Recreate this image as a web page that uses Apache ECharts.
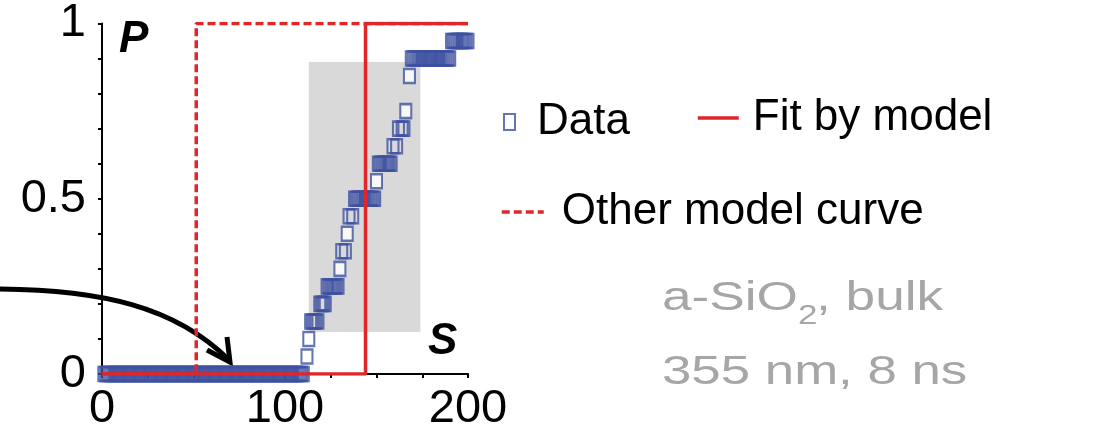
<!DOCTYPE html>
<html>
<head>
<meta charset="utf-8">
<script src="https://cdn.jsdelivr.net/npm/echarts@6/dist/echarts.min.js"></script>
<style>
  html, body { margin: 0; padding: 0; background: #fff; }
  #chart { width: 1118px; height: 433px; }
</style>
</head>
<body>
<div id="chart"></div>
<script>
// P levels of the data squares and the S values read at each level
var pLevels = [0, 0.05, 0.10, 0.15, 0.20, 0.25, 0.30, 0.35, 0.40, 0.45, 0.50, 0.55, 0.60, 0.65, 0.70, 0.75, 0.85, 0.90, 0.95];
var sAtLevel = [
  [1, 2, 3, 4, 5, 6, 7, 8, 9, 10, 11, 12, 13, 14, 15, 16, 17, 18, 19, 20, 21, 22, 23, 24, 25, 26, 27, 28, 29, 30,
   31, 32, 33, 34, 35, 36, 37, 38, 39, 40, 41, 42, 43, 44, 45, 46, 47, 48, 49, 50, 51, 52, 53, 54, 55, 56, 57, 58, 59, 60,
   61, 62, 63, 64, 65, 66, 67, 68, 69, 70, 71, 72, 73, 74, 75, 76, 77, 78, 79, 80, 81, 82, 83, 84, 85, 86, 87, 88, 89, 90,
   91, 92, 93, 94, 95, 96, 97, 98, 99, 100, 101, 102, 103, 104, 105, 106, 107, 108, 109, 110],
  [112],
  [113],
  [114, 115, 116, 117, 118],
  [119, 120, 121, 122],
  [123, 124, 125, 126, 127, 128, 129],
  [130],
  [131, 133],
  [134],
  [135, 137],
  [138, 139, 140, 141, 142, 143, 144, 145, 146, 147, 148, 149],
  [150],
  [151, 152, 153, 154, 155, 156, 157, 158],
  [159, 161],
  [162, 164, 165],
  [166],
  [168],
  [169, 170, 171, 172, 173, 174, 175, 176, 177, 178, 179, 180, 181, 182, 183, 184, 185, 186, 187, 188, 189, 190],
  [191, 192, 193, 194, 195, 196, 197, 198, 199, 200]
];

// step curves
var fitS = [0, 144, 144, 200];
var fitP = [0, 0, 1, 1];
var otherS = [0, 51.5, 51.5, 200];
var otherP = [0, 0, 1, 1];

// shaded band
var bandS = [113, 174];
var bandP = [0.12, 0.89];

var xTickLabels = [0, 100, 200];
var yTickLabels = [0, 0.5, 1];

var blue = '#3f51a0';
var red = '#e1262a';

// lone squares are hollow (white inside), stacked ones let their edges show through
var dataPts = [];
pLevels.forEach(function (p, i) {
  var lone = sAtLevel[i].length === 1;
  sAtLevel[i].forEach(function (s) {
    dataPts.push({ value: [s, p], itemStyle: { color: lone ? '#fff' : 'rgba(255,255,255,0)' } });
  });
});
function pairs(xs, ys) {
  return xs.map(function (x, i) { return [x, ys[i]]; });
}

var chart = echarts.init(document.getElementById('chart'));

var legendText = { fontSize: 44, fontFamily: 'Liberation Sans', color: '#000' };

var option = {
  animation: false,
  grid: { left: 102, right: 650, top: 23, bottom: 54 },
  xAxis: {
    type: 'value', min: 0, max: 200, interval: 25,
    splitLine: { show: false },
    axisLine: { onZero: false, lineStyle: { color: '#000', width: 2 } },
    axisTick: { length: 4, lineStyle: { color: '#000', width: 2 } },
    axisLabel: {
      margin: 12, color: '#000', fontSize: 47, fontFamily: 'Liberation Sans',
      formatter: function (v) { return xTickLabels.indexOf(v) >= 0 ? String(v) : ''; }
    }
  },
  yAxis: {
    type: 'value', min: 0, max: 1, interval: 0.1,
    splitLine: { show: false },
    axisLine: { show: true, lineStyle: { color: '#000', width: 2 } },
    axisTick: { show: true, length: 4, lineStyle: { color: '#000', width: 2 } },
    axisLabel: {
      margin: 16, color: '#000', fontSize: 47, fontFamily: 'Liberation Sans',
      formatter: function (v) {
        for (var i = 0; i < yTickLabels.length; i++) {
          if (Math.abs(v - yTickLabels[i]) < 1e-6) return String(yTickLabels[i]);
        }
        return '';
      }
    }
  },
  legend: [
    {
      data: ['Data'], left: 503, top: 100, padding: 0, selectedMode: false,
      itemWidth: 11, itemHeight: 16,
      itemStyle: { color: '#fff', borderColor: blue, borderWidth: 2 },
      textStyle: Object.assign({ padding: [0, 0, 0, 17] }, legendText)
    },
    {
      data: ['Fit by model'], left: 696, top: 96, padding: 0, selectedMode: false,
      itemWidth: 41, itemHeight: 14,
      itemStyle: { opacity: 0 },
      lineStyle: { width: 3.5 },
      textStyle: Object.assign({ padding: [0, 0, 0, 9] }, legendText)
    },
    {
      data: ['Other model curve'], left: 500, top: 190, padding: 0, selectedMode: false,
      itemWidth: 42, itemHeight: 14,
      itemStyle: { opacity: 0 },
      lineStyle: { width: 3.5 },
      textStyle: Object.assign({ padding: [0, 0, 0, 13] }, legendText)
    }
  ],
  series: [
    {
      name: 'Data', type: 'scatter', z: 2, silent: true,
      symbol: 'rect', symbolSize: [11, 14],
      itemStyle: { color: '#fff', borderColor: blue, borderWidth: 2.3 },
      data: dataPts,
      markArea: {
        silent: true,
        itemStyle: { color: '#d9d9d9' },
        data: [[{ coord: [bandS[0], bandP[0]] }, { coord: [bandS[1], bandP[1]] }]]
      }
    },
    {
      name: 'Other model curve', type: 'line', z: 3, silent: true,
      symbol: 'none',
      lineStyle: { color: red, width: 3.5, type: [8, 4] },
      itemStyle: { color: red },
      data: pairs(otherS, otherP)
    },
    {
      name: 'Fit by model', type: 'line', z: 4, silent: true,
      symbol: 'none',
      lineStyle: { color: red, width: 3.5 },
      itemStyle: { color: red },
      data: pairs(fitS, fitP)
    }
  ],
  graphic: [
    { type: 'text', x: 119, y: 40, style: { text: 'P', font: 'italic bold 44px "Liberation Sans"', fill: '#000', verticalAlign: 'middle' } },
    { type: 'text', x: 428, y: 342, style: { text: 'S', font: 'italic bold 44px "Liberation Sans"', fill: '#000', verticalAlign: 'middle' } },
    // annotation arrow
    {
      type: 'bezierCurve', silent: true,
      shape: { x1: 0, y1: 289, cpx1: 100, cpy1: 290, cpx2: 175, cpy2: 306, x2: 229, y2: 360 },
      style: { stroke: '#000', lineWidth: 5, fill: null }
    },
    {
      type: 'polyline', silent: true,
      shape: { points: [[207, 350], [230, 362], [227, 337]] },
      style: { stroke: '#000', lineWidth: 5, fill: null, lineJoin: 'miter' }
    },
    // sample notes
    { type: 'text', x: 662, y: 299, scaleX: 1.33, style: { text: 'a-SiO', font: '40px "Liberation Sans"', fill: '#a6a6a6', verticalAlign: 'middle' } },
    { type: 'text', x: 798, y: 317, scaleX: 1.3, style: { text: '2', font: '27px "Liberation Sans"', fill: '#a6a6a6', verticalAlign: 'middle' } },
    { type: 'text', x: 816, y: 299, scaleX: 1.33, style: { text: ', bulk', font: '40px "Liberation Sans"', fill: '#a6a6a6', verticalAlign: 'middle' } },
    { type: 'text', x: 662, y: 373, scaleX: 1.32, style: { text: '355 nm, 8 ns', font: '40px "Liberation Sans"', fill: '#a6a6a6', verticalAlign: 'middle' } }
  ]
};

chart.setOption(option);
</script>
</body>
</html>
